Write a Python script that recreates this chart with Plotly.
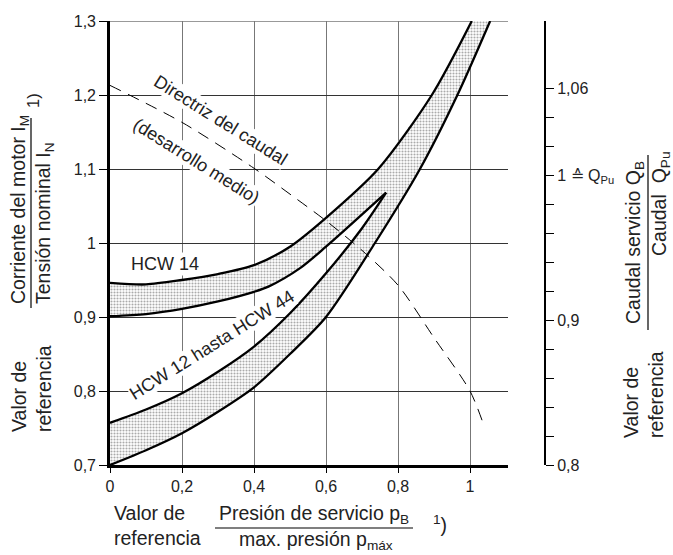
import plotly.graph_objects as go

# ---------------- data ----------------
# HCW 14 band
hcw14_up_x = [0.0, 0.1, 0.2, 0.3, 0.4, 0.5, 0.6, 0.745, 0.894, 1.005]
hcw14_up_y = [0.946, 0.944, 0.950, 0.958, 0.970, 0.995, 1.034, 1.100, 1.200, 1.300]
hcw14_lo_x = [0.0, 0.1, 0.2, 0.3, 0.4, 0.44, 0.528, 0.6, 0.767]
hcw14_lo_y = [0.901, 0.904, 0.911, 0.921, 0.934, 0.941, 0.966, 0.995, 1.068]
# HCW 12 hasta HCW 44 band
hcw12_up_x = [0.0, 0.1, 0.2, 0.3, 0.4, 0.5, 0.6, 0.7, 0.767]
hcw12_up_y = [0.757, 0.775, 0.797, 0.826, 0.860, 0.905, 0.959, 1.020, 1.068]
hcw12_lo_x = [0.0, 0.1, 0.2, 0.3, 0.4, 0.5, 0.6, 0.736, 0.861, 0.965, 1.056]
hcw12_lo_y = [0.700, 0.720, 0.743, 0.772, 0.805, 0.850, 0.900, 1.000, 1.100, 1.200, 1.300]
# flow guide line (dashed)
flow_x = [0.0, 0.2, 0.4, 0.5, 0.6, 0.7, 0.8, 0.9, 1.0, 1.036]
flow_y = [1.213, 1.163, 1.101, 1.066, 1.030, 0.990, 0.943, 0.872, 0.800, 0.757]

x_ticks = [0, 0.2, 0.4, 0.6, 0.8, 1.0]
x_ticktext = ["0", "0,2", "0,4", "0,6", "0,8", "1"]
y_ticks = [0.7, 0.8, 0.9, 1.0, 1.1, 1.2, 1.3]
y_ticktext = ["0,7", "0,8", "0,9", "1", "1,1", "1,2", "1,3"]
y2_ticks = [0.80, 0.82, 0.84, 0.86, 0.88, 0.90, 0.92, 0.94, 0.96, 0.98, 1.00, 1.02, 1.04, 1.06]
y2_ticktext = ["0,8", "", "", "", "", "0,9", "", "", "", "", "1 \u2259 Q<sub>Pu</sub>", "", "", "1,06"]

# ---------------- layout geometry ----------------
W, H = 673, 555
L, R, T, B = 110, 545, 21, 465   # plot area in pixels
X_MAX = (508 - L) / 360


def px(xp):
    return (xp - L) / (R - L)


def py(yp):
    return (B - yp) / (B - T)


FONT = "Liberation Sans, Arial, sans-serif"
TXT = "#222"
TICK = 16

fig = go.Figure()

# filled band polygon (built from the curve arrays)
poly_x = hcw14_up_x + hcw12_lo_x[::-1] + hcw12_up_x + hcw14_lo_x[::-1]
poly_y = hcw14_up_y + hcw12_lo_y[::-1] + hcw12_up_y + hcw14_lo_y[::-1]
fig.add_trace(go.Scatter(
    x=poly_x, y=poly_y, mode="lines", fill="toself",
    line=dict(width=0, color="rgba(0,0,0,0)"),
    fillcolor="rgba(0,0,0,0)",
    fillpattern=dict(shape=".", fgcolor="#555", bgcolor="white", size=3, solidity=0.4),
    hoverinfo="skip", showlegend=False))

for cx, cy in [(hcw14_up_x, hcw14_up_y), (hcw14_lo_x, hcw14_lo_y),
               (hcw12_up_x, hcw12_up_y), (hcw12_lo_x, hcw12_lo_y)]:
    fig.add_trace(go.Scatter(x=cx, y=cy, mode="lines",
                             line=dict(color="black", width=2.3, shape="spline", smoothing=0.8),
                             showlegend=False, hoverinfo="skip"))

fig.add_trace(go.Scatter(x=flow_x, y=flow_y, mode="lines",
                         line=dict(color="black", width=1, dash="12px,8px", shape="spline", smoothing=0.8),
                         showlegend=False, hoverinfo="skip"))

# invisible trace to activate the right axis
fig.add_trace(go.Scatter(x=[None], y=[None], yaxis="y2", showlegend=False))

fig.update_layout(
    width=W, height=H,
    margin=dict(l=L, r=W - R, t=T, b=H - B, pad=0),
    paper_bgcolor="white", plot_bgcolor="white",
    font=dict(family=FONT, size=TICK, color=TXT),
    showlegend=False,
    xaxis=dict(domain=[0, (508 - L) / (R - L)], range=[0, X_MAX],
               tickvals=x_ticks, ticktext=x_ticktext,
               showgrid=True, gridcolor="#777", gridwidth=1.3,
               showline=True, linecolor="black", linewidth=2.6,
               ticks="outside", ticklen=5, tickwidth=1.2, tickcolor="black",
               zeroline=False, tickfont=dict(size=TICK, color=TXT)),
    yaxis=dict(range=[0.7, 1.3], tickvals=y_ticks, ticktext=y_ticktext,
               showgrid=True, gridcolor="#333", gridwidth=1.3,
               showline=True, linecolor="black", linewidth=2.6,
               ticks="outside", ticklen=8, tickwidth=1.2, tickcolor="black",
               zeroline=False, tickfont=dict(size=TICK, color=TXT)),
    yaxis2=dict(overlaying="y", anchor="free", position=1.0, side="right",
                range=[0.8, 0.8 + (B - T) / 1450], tickvals=y2_ticks, ticktext=y2_ticktext,
                showgrid=False, showline=True, linecolor="black", linewidth=2,
                ticks="outside", ticklen=8, tickwidth=1.2, tickcolor="black",
                zeroline=False, tickfont=dict(size=TICK, color=TXT)),
)


def A(x, y, text, ref="paper", angle=0, size=18, xanchor="center", align="center", **kw):
    d = dict(x=x, y=y, xref=ref, yref=ref, text=text, showarrow=False, textangle=angle,
             xanchor=xanchor, yanchor="middle", align=align, font=dict(size=size, color=TXT))
    d.update(kw)
    return d


ann = []
# labels inside the plot
LS = 18
ann.append(A(0.153, 0.972, "HCW 14", size=LS, bgcolor="white", borderpad=1))
ann.append(A(0.283, 0.862, "HCW 12 hasta HCW 44", angle=-32, size=LS, bgcolor="white", borderpad=0))
ann.append(A(0.306, 1.166, "Directriz del caudal", angle=32, size=LS, bgcolor="white", borderpad=0))
ann.append(A(0.239, 1.111, "(desarrollo medio)", angle=32, size=LS, bgcolor="white", borderpad=0))
for a in ann:
    a["xref"], a["yref"] = "x", "y"

TS = 19.5
# left title
ann.append(A(px(31), py(389), "Valor de<br>referencia", angle=-90, align="left", size=TS))
ann.append(A(px(19), py(210), "Corriente del motor I<sub>M</sub>", angle=-90, size=TS))
ann.append(A(px(44), py(223), "Tensión nominal I<sub>N</sub>", angle=-90, size=TS))
ann.append(A(px(33), py(101), "1)", angle=-90, size=TS - 3))
# right title
ann.append(A(px(643), py(395), "Valor de<br>referencia", angle=-90, align="left", size=TS))
ann.append(A(px(634), py(243), "Caudal servicio Q<sub>B</sub>", angle=-90, size=TS))
ann.append(A(px(660), py(204), "Caudal  Q<sub>Pu</sub>", angle=-90, size=TS))
# bottom title
ann.append(A(px(112), py(525), "Valor de<br>referencia", xanchor="left", align="left", size=TS))
ann.append(A(px(314), py(514), "Presión de servicio p<sub>B</sub>", size=TS))
ann.append(A(px(316), py(540), "max. presión p<sub>máx</sub>", size=TS))
ann.append(A(px(440), py(524), "<sup>1</sup>)", size=TS))
fig.update_layout(annotations=ann)

# fraction bars and top border line
shapes = [
    dict(type="line", xref="x", yref="y", x0=0, x1=X_MAX, y0=1.3, y1=1.3,
         line=dict(color="#777", width=1.3), layer="below"),
    dict(type="line", xref="paper", yref="paper", x0=px(31), x1=px(31), y0=py(118), y1=py(308),
         line=dict(color="black", width=1.2)),
    dict(type="line", xref="paper", yref="paper", x0=px(648), x1=px(648), y0=py(155), y1=py(330),
         line=dict(color="black", width=1.2)),
    dict(type="line", xref="paper", yref="paper", x0=px(215), x1=px(413), y0=py(528), y1=py(528),
         line=dict(color="black", width=1.2)),
]
fig.update_layout(shapes=shapes)

fig.write_html("out.html")
